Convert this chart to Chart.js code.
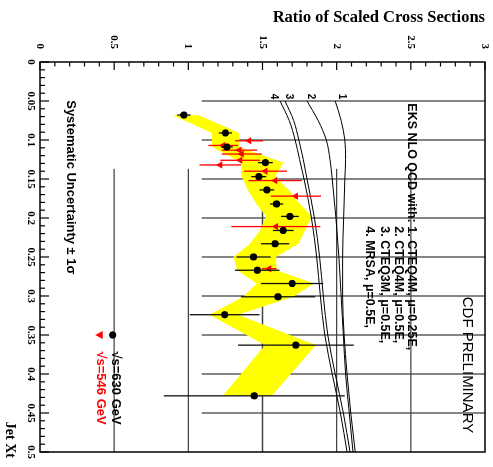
<!DOCTYPE html>
<html>
<head>
<meta charset="utf-8">
<title>Ratio of Scaled Cross Sections</title>
<script src="https://cdn.jsdelivr.net/npm/chart.js@4.4.1/dist/chart.umd.min.js"></script>
<style>
html, body { margin: 0; padding: 0; background: #fff; overflow: hidden; }
/* the plot is drawn upright and turned a quarter turn clockwise */
#wrap {
    position: absolute; left: 0; top: 0; width: 467px; height: 493px;
    transform-origin: 0 0; transform: translate(493px, 0) rotate(90deg);
}
</style>
</head>
<body>
<div id="wrap"><canvas id="ratioChart" width="467" height="493"></canvas></div>
<script>
// sqrt(s) = 630 GeV points
var xt630 = [0.068, 0.091, 0.109, 0.129, 0.147, 0.164, 0.182, 0.198, 0.216, 0.233, 0.250, 0.267, 0.284, 0.301, 0.324, 0.363, 0.428];
var ratio630 = [0.97, 1.25, 1.26, 1.52, 1.475, 1.53, 1.595, 1.685, 1.64, 1.585, 1.44, 1.465, 1.70, 1.605, 1.245, 1.725, 1.445];
var err630 = [0.045, 0.045, 0.04, 0.05, 0.05, 0.05, 0.045, 0.06, 0.07, 0.095, 0.115, 0.15, 0.21, 0.25, 0.235, 0.39, 0.61];

// sqrt(s) = 546 GeV points
var xt546 = [0.101, 0.107, 0.113, 0.118, 0.126, 0.132, 0.140, 0.152, 0.172, 0.211, 0.265];
var ratio546 = [1.41, 1.235, 1.345, 1.36, 1.35, 1.215, 1.52, 1.585, 1.725, 1.59, 1.545];
var err546 = [0.095, 0.10, 0.12, 0.135, 0.135, 0.14, 0.145, 0.18, 0.17, 0.30, 0.05];

// systematic uncertainty band (+-1 sigma)
var bandXt = xt630;
var bandLow = [0.895, 1.158, 1.162, 1.357, 1.36, 1.40, 1.46, 1.524, 1.483, 1.416, 1.304, 1.33, 1.461, 1.371, 1.142, 1.517, 1.232];
var bandHigh = [1.067, 1.344, 1.344, 1.641, 1.585, 1.675, 1.753, 1.832, 1.787, 1.742, 1.591, 1.596, 1.848, 1.708, 1.335, 1.859, 1.562];

// EKS NLO QCD predictions
var curveXt = [0.05, 0.075, 0.1, 0.125, 0.15, 0.2, 0.25, 0.3, 0.35, 0.4, 0.45, 0.5];
var curve1 = [1.99, 2.03, 2.055, 2.06, 2.055, 2.047, 2.04, 2.04, 2.05, 2.07, 2.095, 2.125];
var curve2 = [1.80, 1.875, 1.93, 1.955, 1.97, 1.995, 2.015, 2.03, 2.045, 2.06, 2.085, 2.11];
var curve3 = [1.652, 1.71, 1.745, 1.775, 1.80, 1.85, 1.885, 1.91, 1.94, 1.99, 2.045, 2.09];
var curve4 = [1.618, 1.68, 1.72, 1.75, 1.78, 1.83, 1.865, 1.89, 1.92, 1.97, 2.025, 2.07];
var curveNames = ["1", "2", "3", "4"];
var curveNameRatio = [2.032, 1.824, 1.679, 1.576];

var gridXt = [0.05, 0.1, 0.15, 0.2, 0.25, 0.3, 0.35, 0.4, 0.45];
var gridRatio = [0.5, 1, 1.5, 2, 2.5];

var serif = "'Liberation Serif', 'Times New Roman', serif";
var sans = "'Liberation Sans', Arial, Helvetica, sans-serif";

function pts(xs, ys) {
    var out = [];
    for (var i = 0; i < xs.length; i++) {
        out.push({x: xs[i], y: ys[i]});
    }
    return out;
}

function curveSet(data) {
    return {
        data: pts(curveXt, data),
        borderColor: "#000",
        borderWidth: 1,
        pointRadius: 0,
        cubicInterpolationMode: "monotone",
        fill: false,
        order: 2
    };
}

function line(ctx, x1, y1, x2, y2) {
    ctx.beginPath();
    ctx.moveTo(x1, y1);
    ctx.lineTo(x2, y2);
    ctx.stroke();
}

var overlay = {
    id: "overlay",
    beforeDatasetsDraw: function (chart) {
        var ctx = chart.ctx, xs = chart.scales.x, ys = chart.scales.y;
        ctx.save();
        ctx.strokeStyle = "#444";
        ctx.lineWidth = 1.3;
        for (var i = 0; i < gridXt.length; i++) {
            var px = xs.getPixelForValue(gridXt[i]);
            line(ctx, px, ys.getPixelForValue(1.09), px, ys.getPixelForValue(3));
        }
        for (var j = 0; j < gridRatio.length; j++) {
            var py = ys.getPixelForValue(gridRatio[j]);
            line(ctx, xs.getPixelForValue(0.137), py, xs.getPixelForValue(0.5), py);
        }
        ctx.restore();
    },
    beforeDatasetDraw: function (chart, args) {
        var ds = chart.data.datasets[args.index];
        if (!ds.errs) return;
        var ctx = chart.ctx, xs = chart.scales.x, ys = chart.scales.y;
        ctx.save();
        ctx.strokeStyle = ds.errColor;
        ctx.lineWidth = 1.3;
        for (var i = 0; i < ds.data.length; i++) {
            var p = ds.data[i];
            var px = xs.getPixelForValue(p.x);
            line(ctx, px, ys.getPixelForValue(p.y - ds.errs[i]), px, ys.getPixelForValue(p.y + ds.errs[i]));
        }
        ctx.restore();
    },
    afterDraw: function (chart) {
        var ctx = chart.ctx, xs = chart.scales.x, ys = chart.scales.y, ca = chart.chartArea;
        ctx.save();
        ctx.strokeStyle = "#000";

        // inward tick marks
        ctx.lineWidth = 1.2;
        for (var t = 0; t <= 50; t++) {
            var px = xs.getPixelForValue(t / 100);
            line(ctx, px, ca.bottom, px, ca.bottom - (t % 5 === 0 ? 9 : 5));
        }
        for (var s = 0; s <= 30; s++) {
            var py = ys.getPixelForValue(s / 10);
            line(ctx, ca.left, py, ca.left + (s % 5 === 0 ? 8 : 4.5), py);
        }
        ctx.lineWidth = 1.5;
        ctx.strokeRect(ca.left, ca.top, ca.right - ca.left, ca.bottom - ca.top);

        // curve numbers
        ctx.fillStyle = "#000";
        ctx.font = "bold 10px " + sans;
        ctx.textAlign = "center";
        ctx.textBaseline = "middle";
        for (var c = 0; c < curveNames.length; c++) {
            ctx.fillText(curveNames[c], xs.getPixelForValue(0.0444), ys.getPixelForValue(curveNameRatio[c]));
        }

        ctx.textAlign = "left";
        ctx.textBaseline = "alphabetic";
        ctx.font = "bold 12.5px " + sans;
        ctx.fillText("EKS NLO QCD with: 1. CTEQ4M, \u03bc=0.25E,", xs.getPixelForValue(0.053), ys.getPixelForValue(2.484));
        var x0 = xs.getPixelForValue(0.053) + ctx.measureText("EKS NLO QCD with: ").width;
        ctx.fillText("2. CTEQ4M, \u03bc=0.5E,", x0, ys.getPixelForValue(2.394));
        ctx.fillText("3. CTEQ3M, \u03bc=0.5E,", x0, ys.getPixelForValue(2.296));
        ctx.fillText("4. MRSA, \u03bc=0.5E,", x0, ys.getPixelForValue(2.198));

        ctx.font = "15px " + sans;
        ctx.fillText("CDF PRELIMINARY", xs.getPixelForValue(0.301), ys.getPixelForValue(2.852));

        ctx.font = "bold 13px " + sans;
        ctx.fillText("Systematic Uncertainty \u00b1 1\u03c3", xs.getPixelForValue(0.049), ys.getPixelForValue(0.185));

        // legend
        var lx = xs.getPixelForValue(0.35);
        ctx.beginPath();
        ctx.arc(lx, ys.getPixelForValue(0.49), 3.6, 0, Math.PI * 2);
        ctx.fill();
        ctx.fillText("\u221as=630 GeV", xs.getPixelForValue(0.371), ys.getPixelForValue(0.485));
        ctx.fillStyle = "#ff0000";
        var ty = ys.getPixelForValue(0.40);
        ctx.beginPath();
        ctx.moveTo(lx - 4, ty - 3.5);
        ctx.lineTo(lx + 4, ty - 3.5);
        ctx.lineTo(lx, ty + 4);
        ctx.closePath();
        ctx.fill();
        ctx.fillText("\u221as=546 GeV", xs.getPixelForValue(0.371), ys.getPixelForValue(0.386));

        // x axis title
        ctx.fillStyle = "#000";
        ctx.font = "bold 14px " + serif;
        ctx.textAlign = "right";
        ctx.fillText("Jet Xt", ca.right + 6, 487);
        ctx.restore();
    }
};

var ctx = document.getElementById("ratioChart").getContext("2d");
var chart = new Chart(ctx, {
    type: "line",
    data: {
        datasets: [
            {
                label: "630 GeV",
                data: pts(xt630, ratio630),
                errs: err630,
                errColor: "#111",
                showLine: false,
                pointStyle: "circle",
                pointRadius: 3.6,
                pointBackgroundColor: "#000",
                pointBorderColor: "#000",
                pointBorderWidth: 0,
                order: 0
            },
            {
                label: "546 GeV",
                data: pts(xt546, ratio546),
                errs: err546,
                errColor: "#ff0000",
                showLine: false,
                pointStyle: "triangle",
                rotation: 180,
                pointRadius: 4.2,
                pointBackgroundColor: "#ff0000",
                pointBorderColor: "#ff0000",
                pointBorderWidth: 0,
                order: 1
            },
            curveSet(curve1),
            curveSet(curve2),
            curveSet(curve3),
            curveSet(curve4),
            {
                label: "band low",
                data: pts(bandXt, bandLow),
                borderWidth: 0,
                borderColor: "rgba(0,0,0,0)",
                pointRadius: 0,
                tension: 0,
                fill: false,
                order: 3
            },
            {
                label: "band high",
                data: pts(bandXt, bandHigh),
                borderWidth: 0,
                borderColor: "rgba(0,0,0,0)",
                backgroundColor: "#ffff00",
                pointRadius: 0,
                tension: 0,
                fill: "-1",
                order: 3
            }
        ]
    },
    options: {
        responsive: false,
        animation: false,
        devicePixelRatio: 1,
        layout: {
            padding: {left: 0, right: 15, top: 8, bottom: 0}
        },
        plugins: {
            legend: {display: false},
            tooltip: {enabled: false}
        },
        scales: {
            x: {
                type: "linear",
                min: 0,
                max: 0.5,
                grid: {display: false, drawTicks: false},
                border: {display: false},
                ticks: {
                    stepSize: 0.05,
                    padding: 3,
                    maxRotation: 0,
                    autoSkip: false,
                    color: "#000",
                    font: {family: serif, size: 11, weight: "bold"},
                    callback: function (v) {
                        return String(Math.round(v * 100) / 100);
                    }
                },
                afterFit: function (scale) {
                    scale.height = 40;
                    scale.paddingLeft = 0;
                    scale.paddingRight = 0;
                }
            },
            y: {
                type: "linear",
                min: 0,
                max: 3,
                grid: {display: false, drawTicks: false},
                border: {display: false},
                ticks: {
                    stepSize: 0.5,
                    padding: 13,
                    color: "#000",
                    font: {family: serif, size: 11, weight: "bold"},
                    callback: function (v) {
                        return String(Math.round(v * 10) / 10);
                    }
                },
                title: {
                    display: true,
                    text: "Ratio of Scaled Cross Sections",
                    align: "end",
                    color: "#000",
                    font: {family: serif, size: 16.5, weight: "bold"},
                    padding: {top: 8, bottom: 0}
                },
                afterFit: function (scale) {
                    scale.width = 62;
                    scale.paddingTop = 0;
                    scale.paddingBottom = 0;
                }
            }
        }
    },
    plugins: [overlay]
});
</script>
</body>
</html>
